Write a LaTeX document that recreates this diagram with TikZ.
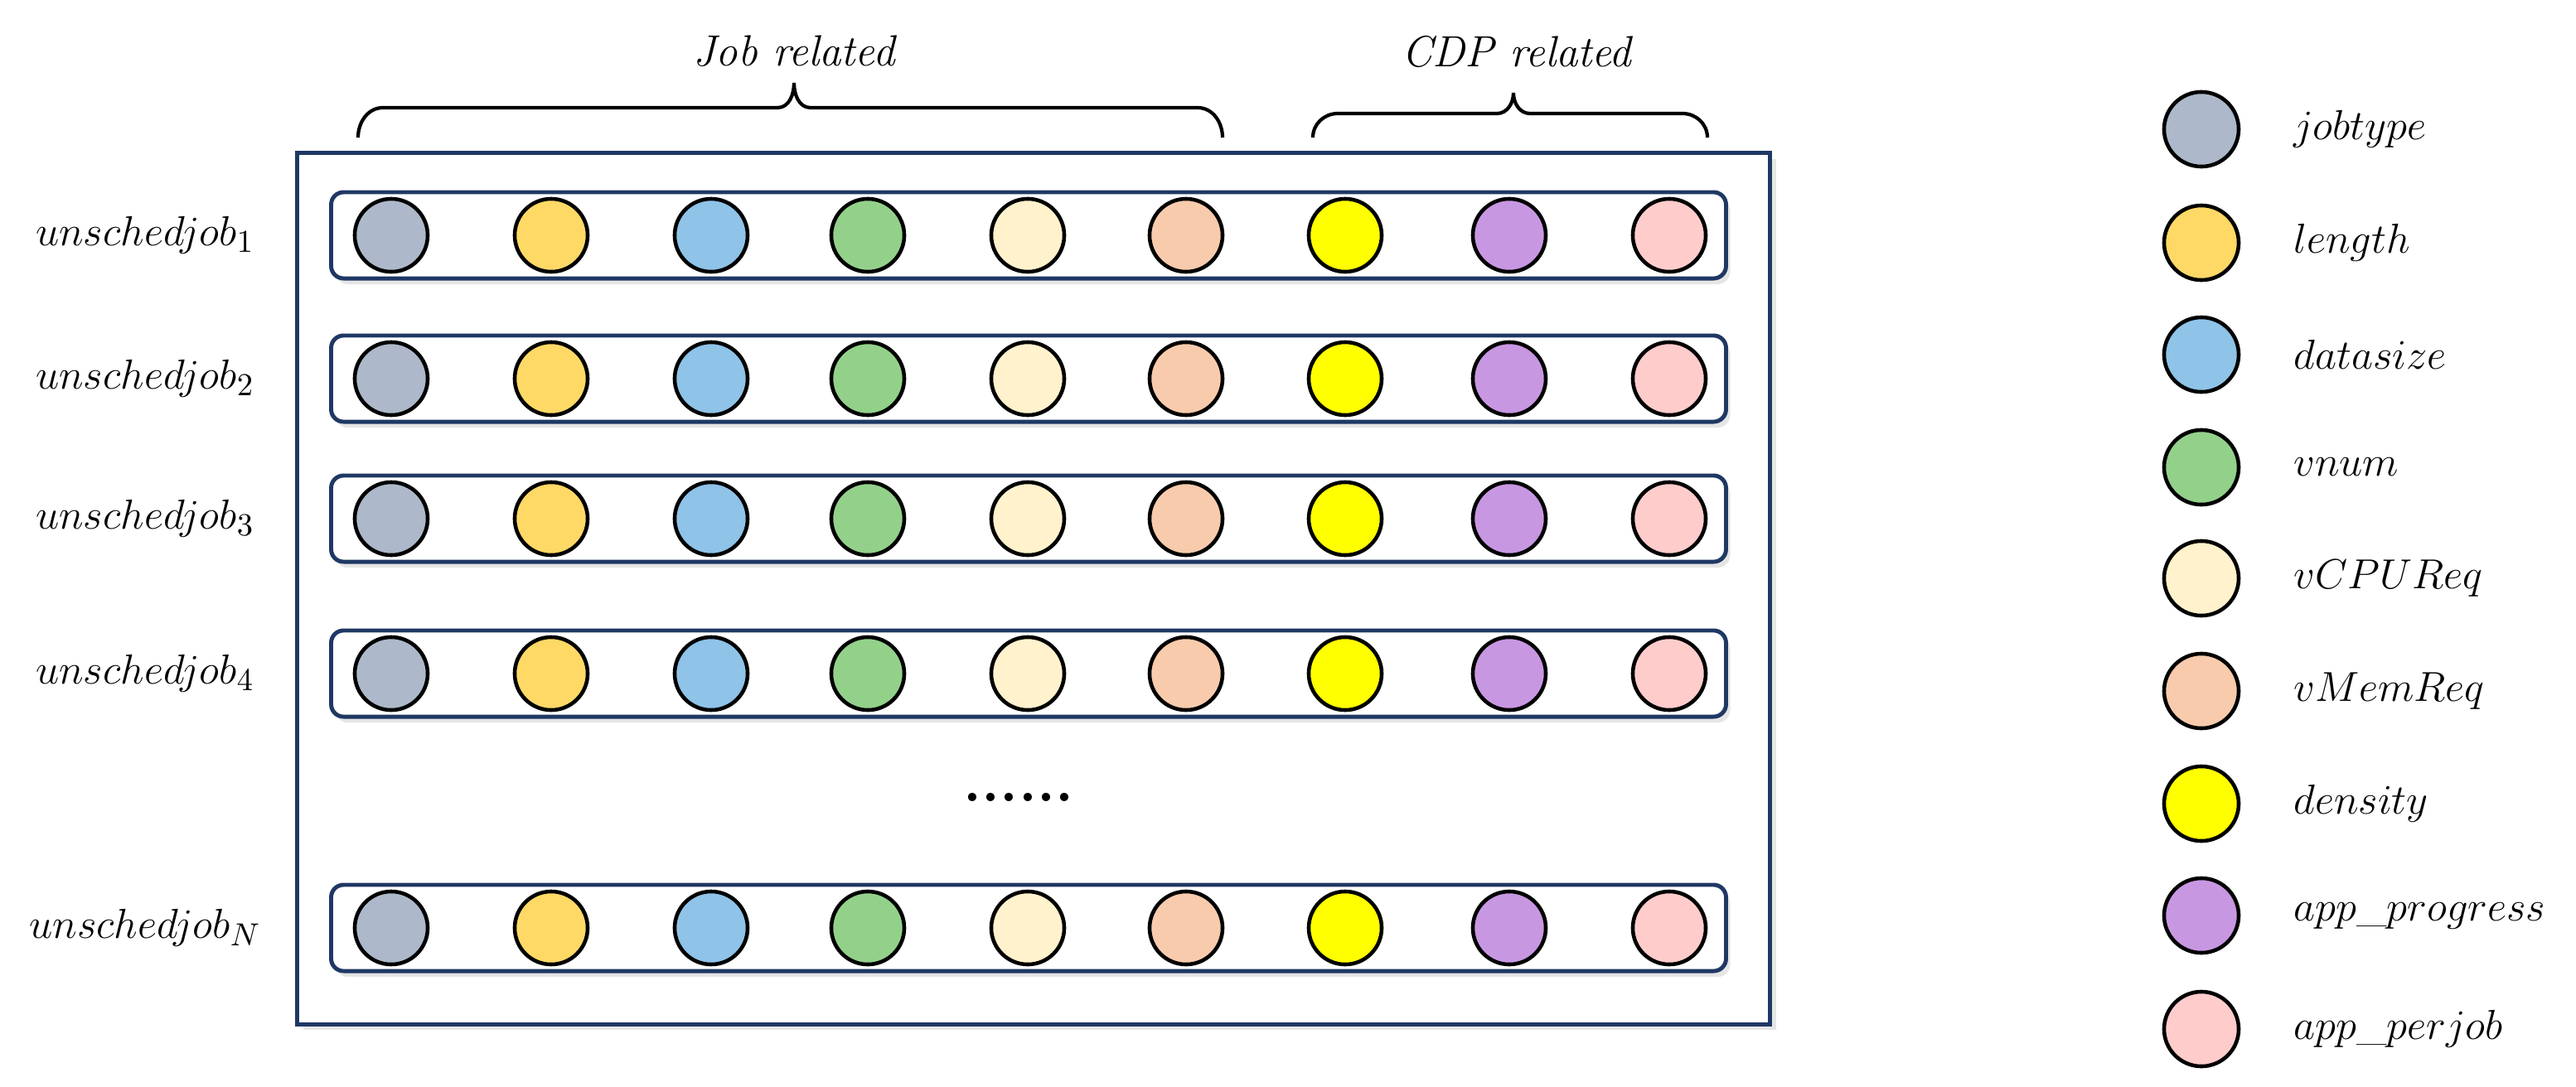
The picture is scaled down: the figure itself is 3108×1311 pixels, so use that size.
\documentclass[tikz,border=0pt]{standalone}
\usetikzlibrary{shadows}
\definecolor{navy}{HTML}{1F3864}
\definecolor{c1}{HTML}{ADB9CA}
\definecolor{c2}{HTML}{FFD966}
\definecolor{c3}{HTML}{8FC3E8}
\definecolor{c4}{HTML}{93D18B}
\definecolor{c5}{HTML}{FFF2CC}
\definecolor{c6}{HTML}{F8CBAD}
\definecolor{c7}{HTML}{FFFF00}
\definecolor{c8}{HTML}{C897E2}
\definecolor{c9}{HTML}{FFCCCC}
\begin{document}
\begin{tikzpicture}[x=0.01cm,y=-0.01cm,
  dot/.style={circle,draw=black,line width=1.3pt,minimum size=0.88cm,inner sep=0pt},
  row/.style={draw=navy,line width=1.4pt,rounded corners=0.15cm,fill=white,drop shadow={opacity=0.2,shadow xshift=0.05cm,shadow yshift=-0.07cm}},
  brace/.style={draw=black,line width=1.2pt},
  lab/.style={font=\fontsize{15}{18}\selectfont},
  leg/.style={font=\fontsize{15}{18}\selectfont,anchor=west}]
\useasboundingbox (0,0) rectangle (3108,1311);
\node[draw=navy,line width=1.5pt,fill=white,minimum width=17.76cm,minimum height=10.51cm,inner sep=0pt,anchor=north west,drop shadow={opacity=0.2,shadow xshift=0.07cm,shadow yshift=-0.07cm}] (outer) at (356,182) {};
% braces
\draw[brace] (432,166) to[out=90,in=180] (462,130) -- (938,130) to[out=0,in=-90] (958,100) to[out=-90,in=180] (978,130) -- (1445,130) to[out=0,in=90] (1475,166);
\draw[brace] (1584,166) to[out=90,in=180] (1614,137) -- (1806,137) to[out=0,in=-90] (1826,112) to[out=-90,in=180] (1846,137) -- (2030,137) to[out=0,in=90] (2060,166);
\node[lab] (jr) at (958,62) {\itshape Job related};
\node[lab] (cr) at (1830,62) {\itshape CDP related};
% rows
\foreach \y/\s [count=\r] in {284/1,457/2,626/3,813/4,1120/N}{
  \node[row,minimum width=16.82cm,minimum height=1.04cm,inner sep=0pt] (row\r) at (1241,\y) {};
  \node[lab] (lab\r) at (175,\y) {$unschedjob_{\s}$};
  \foreach \x/\c [count=\k] in {472/c1,665/c2,858/c3,1047/c4,1240/c5,1431/c6,1623/c7,1821/c8,2014/c9}{
    \node[dot,fill=\c] (d\r-\k) at (\x,\y) {};
  }
}
\node[font=\fontsize{20}{20}\selectfont\bfseries] (dots) at (1229,962) {......};
% legend
\foreach \y/\c/\t [count=\k] in {156/c1/jobtype,293/c2/length,428/c3/datasize,564/c4/vnum,698/c5/vCPUReq,834/c6/vMemReq,970/c7/density,1105/c8/app\_progress,1242/c9/app\_perjob}{
  \node[dot,fill=\c,minimum width=0.9cm,minimum height=0.86cm] (l\k) at (2656,\y) {};
  \node[leg] (lt\k) at (2755,\y) {$\t$};
}
\end{tikzpicture}
\end{document}
